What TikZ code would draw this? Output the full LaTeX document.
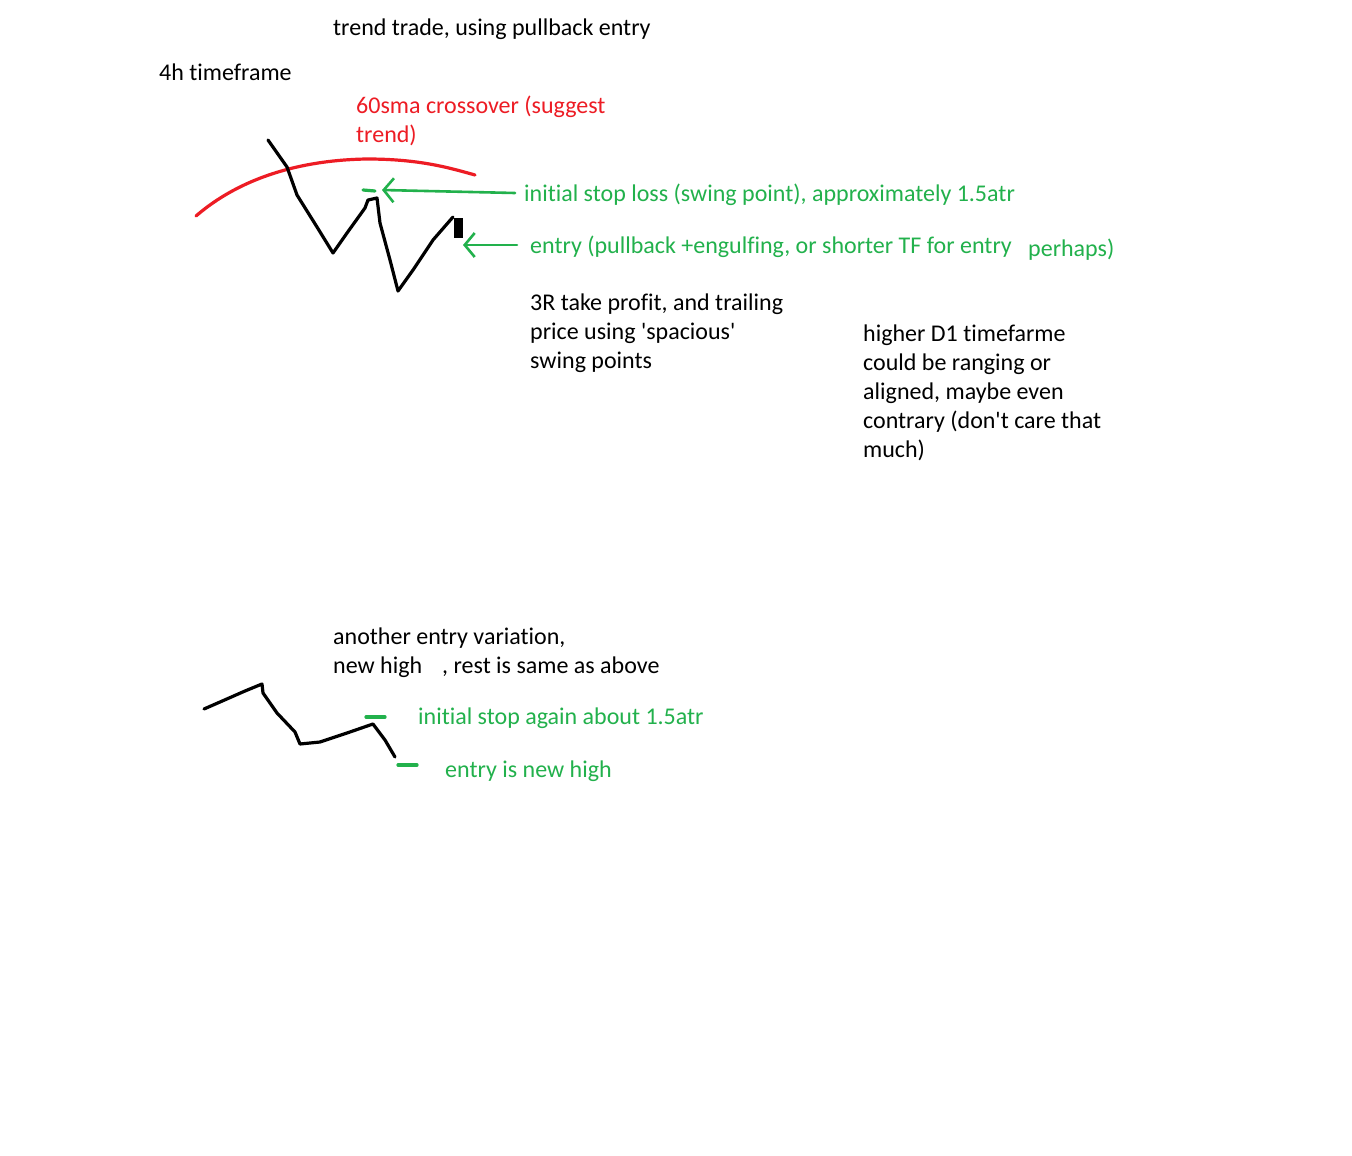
\documentclass[tikz,border=0pt]{standalone}
\usepackage{fontspec}
\setmainfont{Carlito}[Ligatures={TeXOff,CommonOff}]
\usetikzlibrary{arrows.meta}

\definecolor{paintred}{HTML}{ED1C24}
\definecolor{paintgreen}{HTML}{22B14C}

\tikzset{
  note/.style={anchor=west, inner sep=0pt, align=left, font=\fontsize{24}{29}\selectfont},
  pen/.style={line width=3.2pt, line cap=round, line join=round},
  greenarrow/.style={pen, paintgreen, line width=2.6pt, -{Straight Barb[length=10pt,width=24pt,line width=2.6pt]}}
}

\begin{document}
\begin{tikzpicture}[x=1pt,y=-1pt]
        \path[use as bounding box, fill=white] (0,0) rectangle (1352,1156);

        % texts, top part
        \node [note] (title) at (333, 29) {trend trade, using pullback entry};
        \node [note] (tf) at (159, 72) {4h timeframe};
        \node [note, text=paintred] (sma) at (356, 121) {60sma crossover (suggest\\trend)};
        \node [note, text=paintgreen] (stop) at (524, 195) {initial stop loss (swing point), approximately 1.5atr};
        \node [note, text=paintgreen] (entry) at (530, 247) {entry (pullback +engulfing, or shorter TF for entry};
        \node [note, text=paintgreen] (perhaps) at (1028, 250) {perhaps)};
        \node [note] (profit) at (530, 333) {3R take profit, and trailing\\price using 'spacious'\\swing points};
        \node [note] (daily) at (863, 393) {higher D1 timefarme\\could be ranging or\\aligned, maybe even\\contrary (don't care that\\much)};

        % moving average
        \draw [pen, paintred] (196,216) .. controls (240,178) and (300,160) .. (367,159)
          .. controls (420,159) and (450,168) .. (475,175);

        % price
        \draw [pen] (268,140) -- (287,167) -- (297,195) -- (317,227) -- (333,253)
          -- (347,233) -- (365,208) -- (368,200) -- (377,198) -- (380,223)
          -- (390,260) -- (398,291) -- (413,270) -- (433,240) -- (453,217);
        \fill (454,218) rectangle (463,238);

        % stop and entry marks
        \coordinate (stoptip) at (382, 190);
        \coordinate (entrytip) at (463, 245);
        \draw [pen, paintgreen] (363,190) -- (375,191);
        \draw [greenarrow] ([xshift=-9pt, yshift=2pt]stop.west) -- (stoptip);
        \draw [greenarrow] ([xshift=-13pt, yshift=2pt]entry.west) -- (entrytip);

        % texts, bottom part
        \node [note] (another) at (333, 638) {another entry variation,};
        \node [note] (newhigh) at (333, 667) {new high};
        \node [note] (rest) at (442, 667) {, rest is same as above};
        \node [note, text=paintgreen] (stop2) at (418, 718) {initial stop again about 1.5atr};
        \node [note, text=paintgreen] (entry2) at (445, 771) {entry is new high};

        % second price
        \draw [pen] (204,709) -- (220,702) -- (245,691) -- (262,684) -- (263,693)
          -- (277,713) -- (295,732) -- (300,744) -- (320,742) -- (347,733)
          -- (373,724) -- (385,740) -- (395,757);
        \draw [pen, paintgreen] (366,717) -- (385,717);
        \draw [pen, paintgreen] (398,765) -- (417,765);
      \end{tikzpicture}
\end{document}
